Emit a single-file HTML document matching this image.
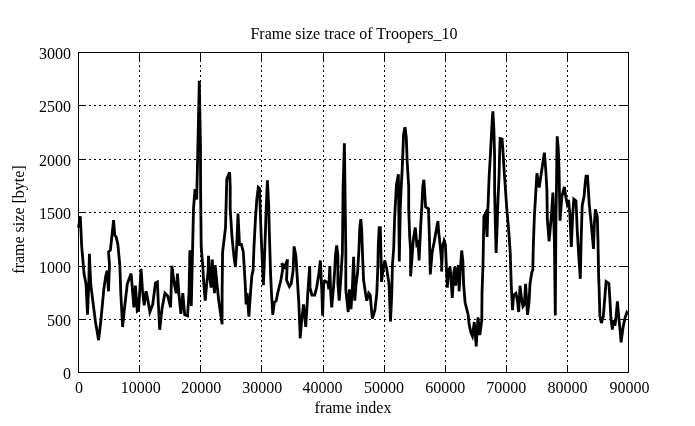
<!DOCTYPE html><html><head><meta charset="utf-8"><title>Frame size trace of Troopers_10</title><style>html,body{margin:0;padding:0;background:#fff}body{width:695px;height:426px;position:relative;overflow:hidden}</style></head><body><svg width="695" height="426" viewBox="0 0 695 426" style="position:absolute;left:0;top:0;will-change:transform"><path d="M139.5 52V373M200.5 52V373M261.5 52V373M323.5 52V373M384.5 52V373M445.5 52V373M506.5 52V373M567.5 52V373" stroke="#000" stroke-width="1" stroke-dasharray="2 3" stroke-dashoffset="2" fill="none" shape-rendering="crispEdges"/><path d="M78 319.5H629M78 266.5H629M78 212.5H629M78 159.5H629M78 105.5H629" stroke="#000" stroke-width="1" stroke-dasharray="2 3" stroke-dashoffset="4" fill="none" shape-rendering="crispEdges"/><path d="M78.5 373v-8M78.5 52v8M139.5 373v-8M139.5 52v8M200.5 373v-8M200.5 52v8M261.5 373v-8M261.5 52v8M323.5 373v-8M323.5 52v8M384.5 373v-8M384.5 52v8M445.5 373v-8M445.5 52v8M506.5 373v-8M506.5 52v8M567.5 373v-8M567.5 52v8M628.5 373v-8M628.5 52v8M78 372.5h8M629 372.5h-8M78 319.5h8M629 319.5h-8M78 266.5h8M629 266.5h-8M78 212.5h8M629 212.5h-8M78 159.5h8M629 159.5h-8M78 105.5h8M629 105.5h-8M78 52.5h8M629 52.5h-8" stroke="#000" stroke-width="1" fill="none" shape-rendering="crispEdges"/><rect x="78.5" y="52.5" width="550.0" height="320.0" fill="none" stroke="#000" stroke-width="1" shape-rendering="crispEdges"/><path d="M78.5 227.6 L80.3 216.3 L81.7 246.4 L84.1 274.4 L86.0 283.8 L87.5 314.8 L88.8 283.8 L89.4 253.9 L90.7 283.8 L95.4 321.4 L98.6 340.2 L101.0 319.5 L103.8 289.4 L105.7 276.3 L107.2 270.6 L108.5 291.3 L109.5 265.0 L108.5 252.0 L110.4 250.2 L113.6 220.1 L114.7 235.1 L116.2 237.0 L117.9 244.5 L119.8 265.2 L120.8 293.2 L122.6 327.0 L124.5 308.2 L127.3 283.8 L131.1 273.5 L133.9 307.3 L135.4 285.7 L137.3 311.1 L138.6 310.1 L141.1 268.8 L142.4 289.4 L144.2 305.4 L146.1 291.3 L148.0 300.7 L149.9 312.0 L152.7 304.5 L155.5 282.9 L157.4 281.9 L158.3 302.6 L159.7 329.8 L162.1 308.2 L164.9 293.2 L167.7 296.0 L170.6 307.3 L171.9 265.9 L174.3 283.8 L176.2 293.2 L177.5 273.5 L179.0 295.1 L180.9 313.9 L182.8 293.2 L184.7 314.8 L187.5 315.8 L189.0 293.2 L189.9 250.2 L191.3 306.0 L193.5 208.8 L195.0 189.2 L196.7 199.5 L197.4 168.5 L199.3 80.8 L200.5 147.9 L200.6 190.0 L201.2 246.4 L202.7 265.2 L203.8 283.8 L205.2 300.7 L206.7 283.8 L208.2 270.6 L208.5 255.8 L209.8 276.3 L211.0 287.6 L212.3 259.5 L213.6 283.8 L214.5 293.2 L215.5 272.5 L215.1 265.2 L217.0 283.8 L218.5 298.8 L219.8 308.2 L222.1 324.2 L222.1 293.2 L222.6 252.0 L225.5 227.6 L226.8 178.9 L229.6 172.3 L230.2 186.4 L230.2 208.8 L232.0 237.0 L233.9 255.8 L235.4 267.1 L236.7 246.4 L238.0 213.5 L239.5 244.5 L241.4 244.5 L243.3 252.0 L245.2 283.8 L246.1 304.5 L247.1 293.2 L248.9 316.7 L250.5 293.2 L251.8 276.3 L253.1 270.1 L254.0 246.4 L255.5 218.2 L256.8 199.5 L258.3 187.3 L259.5 188.3 L260.2 208.8 L261.2 237.0 L263.4 285.3 L264.9 246.4 L266.2 208.8 L267.4 180.4 L268.7 205.0 L269.2 227.6 L270.6 274.4 L271.5 293.2 L272.8 314.8 L274.3 302.6 L276.2 300.7 L278.1 291.3 L280.9 280.0 L282.8 268.8 L281.8 263.3 L284.7 267.1 L287.5 259.5 L286.5 280.0 L289.4 286.6 L291.2 283.8 L293.1 270.6 L294.1 246.4 L295.9 255.8 L298.8 302.6 L300.1 334.5 L300.1 338.3 L301.6 321.4 L303.5 304.5 L304.4 312.0 L305.7 327.0 L306.7 312.0 L307.8 293.2 L309.7 266.1 L310.0 287.6 L311.9 295.1 L314.7 295.1 L316.6 287.6 L318.5 276.3 L320.4 260.5 L321.9 293.2 L322.6 315.8 L323.6 283.8 L325.1 281.0 L327.9 282.9 L328.8 289.4 L329.8 266.1 L330.7 293.2 L331.7 307.3 L333.5 287.6 L334.8 268.8 L335.4 255.8 L336.7 245.5 L337.9 255.8 L337.9 283.8 L339.2 300.7 L340.7 280.0 L341.6 265.2 L342.4 252.0 L343.1 186.4 L344.4 143.2 L345.8 250.2 L345.8 289.4 L348.2 312.0 L349.5 289.4 L351.0 309.2 L352.3 289.4 L353.6 256.7 L354.8 300.7 L356.1 283.8 L357.6 272.5 L358.9 250.2 L359.8 227.6 L360.8 219.1 L361.7 229.5 L362.7 259.5 L363.6 280.0 L365.5 293.2 L366.8 300.7 L368.7 293.2 L370.2 295.1 L371.7 312.0 L372.4 318.6 L374.9 310.1 L376.8 293.2 L377.9 265.2 L378.3 244.5 L379.2 227.6 L380.3 227.6 L381.1 259.5 L381.5 281.9 L383.0 270.6 L384.8 260.5 L386.7 268.8 L389.0 283.8 L390.5 321.4 L391.8 293.2 L392.4 265.2 L393.7 248.3 L394.6 218.2 L396.5 184.5 L398.4 174.2 L399.3 261.4 L400.3 208.8 L401.2 186.4 L402.1 171.4 L403.6 133.8 L405.0 127.2 L406.3 137.6 L407.2 162.0 L408.7 186.4 L408.7 208.8 L409.7 237.0 L410.6 250.2 L410.6 276.3 L413.4 238.9 L415.3 227.6 L416.8 244.5 L418.1 242.6 L419.1 260.5 L420.6 227.6 L421.9 205.0 L422.8 186.4 L423.9 179.8 L425.6 206.9 L428.5 208.8 L429.4 237.0 L430.3 274.4 L432.2 252.0 L434.1 242.6 L436.0 231.4 L437.9 221.0 L438.8 233.2 L440.3 246.4 L441.6 261.4 L441.6 271.6 L442.6 246.4 L444.1 240.8 L445.4 244.5 L446.3 265.2 L447.3 287.6 L448.6 270.6 L450.1 267.1 L452.3 297.9 L453.8 272.5 L454.8 267.1 L455.7 285.7 L457.2 270.6 L458.5 265.2 L459.1 291.3 L460.4 268.8 L461.7 250.5 L462.9 261.4 L463.6 283.8 L465.1 302.6 L467.0 310.1 L468.2 315.0 L469.1 324.4 L471.0 332.8 L472.4 336.1 L474.3 322.0 L476.2 346.5 L478.0 317.3 L479.9 335.2 L481.8 319.7 L482.0 293.2 L483.0 265.0 L483.5 237.0 L483.9 216.3 L485.4 213.5 L487.1 237.0 L487.9 208.8 L489.2 175.2 L489.9 163.9 L491.1 141.4 L492.4 116.9 L492.9 111.3 L493.9 130.1 L494.6 156.4 L494.6 190.0 L495.2 218.2 L496.1 253.0 L497.1 227.6 L498.0 199.4 L499.1 175.2 L499.5 156.4 L500.1 138.5 L502.1 139.1 L503.3 156.4 L504.2 171.4 L505.5 190.0 L506.8 208.8 L508.3 225.7 L509.3 238.9 L510.2 252.0 L511.2 283.8 L512.5 310.1 L513.6 295.1 L515.9 293.2 L517.4 300.7 L518.7 312.0 L520.0 285.7 L521.5 298.8 L523.0 306.4 L524.3 304.5 L525.6 283.8 L527.5 314.8 L529.0 302.6 L530.0 283.8 L531.8 272.5 L532.8 270.1 L533.3 246.4 L534.3 218.2 L535.6 195.6 L536.9 173.3 L539.2 187.5 L541.5 172.0 L544.4 152.6 L545.9 172.0 L546.9 190.1 L547.3 218.8 L549.1 241.4 L551.6 213.2 L552.9 192.5 L554.4 241.4 L555.3 315.5 L555.9 222.6 L556.5 185.0 L556.7 166.4 L557.2 136.3 L558.2 147.6 L559.1 170.2 L559.5 194.4 L560.0 220.7 L561.9 196.3 L564.4 186.9 L565.7 196.3 L567.2 203.8 L568.5 200.0 L569.8 213.2 L571.3 247.0 L572.8 213.2 L573.8 199.1 L576.0 201.0 L577.3 232.0 L578.8 256.4 L580.3 278.8 L581.1 241.4 L582.2 205.7 L584.1 196.3 L585.0 185.2 L586.0 176.2 L587.5 176.2 L588.2 187.1 L589.2 203.8 L591.1 222.6 L593.5 248.9 L594.4 222.6 L595.4 209.4 L597.3 217.0 L598.0 241.4 L598.6 275.0 L599.1 288.2 L599.9 316.4 L601.4 323.0 L603.3 316.4 L604.8 297.6 L606.1 281.6 L608.9 283.5 L609.8 297.6 L610.8 316.4 L612.3 329.5 L613.6 320.2 L614.9 325.8 L616.1 316.4 L617.4 301.4 L618.7 316.4 L620.2 331.4 L621.1 342.3 L623.0 327.7 L624.9 318.3 L626.8 312.6 L628.1 314.5" stroke="#000" stroke-width="2.8" fill="none" stroke-linejoin="miter" stroke-miterlimit="4"/><g style="font-family:'Liberation Serif',serif;font-size:16px;fill:#000"><text x="354" y="38.7" text-anchor="middle">Frame size trace of Troopers_10</text><text x="71" y="378.6" text-anchor="end">0</text><text x="71" y="325.6" text-anchor="end">500</text><text x="71" y="272.6" text-anchor="end">1000</text><text x="71" y="218.6" text-anchor="end">1500</text><text x="71" y="165.6" text-anchor="end">2000</text><text x="71" y="111.6" text-anchor="end">2500</text><text x="71" y="58.6" text-anchor="end">3000</text><text x="78.9" y="393" text-anchor="middle">0</text><text x="140.7" y="393" text-anchor="middle">10000</text><text x="201.3" y="393" text-anchor="middle">20000</text><text x="262.3" y="393" text-anchor="middle">30000</text><text x="322.6" y="393" text-anchor="middle">40000</text><text x="384.0" y="393" text-anchor="middle">50000</text><text x="445.3" y="393" text-anchor="middle">60000</text><text x="506.3" y="393" text-anchor="middle">70000</text><text x="567.4" y="393" text-anchor="middle">80000</text><text x="629.6" y="393" text-anchor="middle">90000</text><text x="353" y="412.5" text-anchor="middle">frame index</text><text transform="translate(24 219.5) rotate(-90)" text-anchor="middle">frame size [byte]</text></g></svg></body></html>
